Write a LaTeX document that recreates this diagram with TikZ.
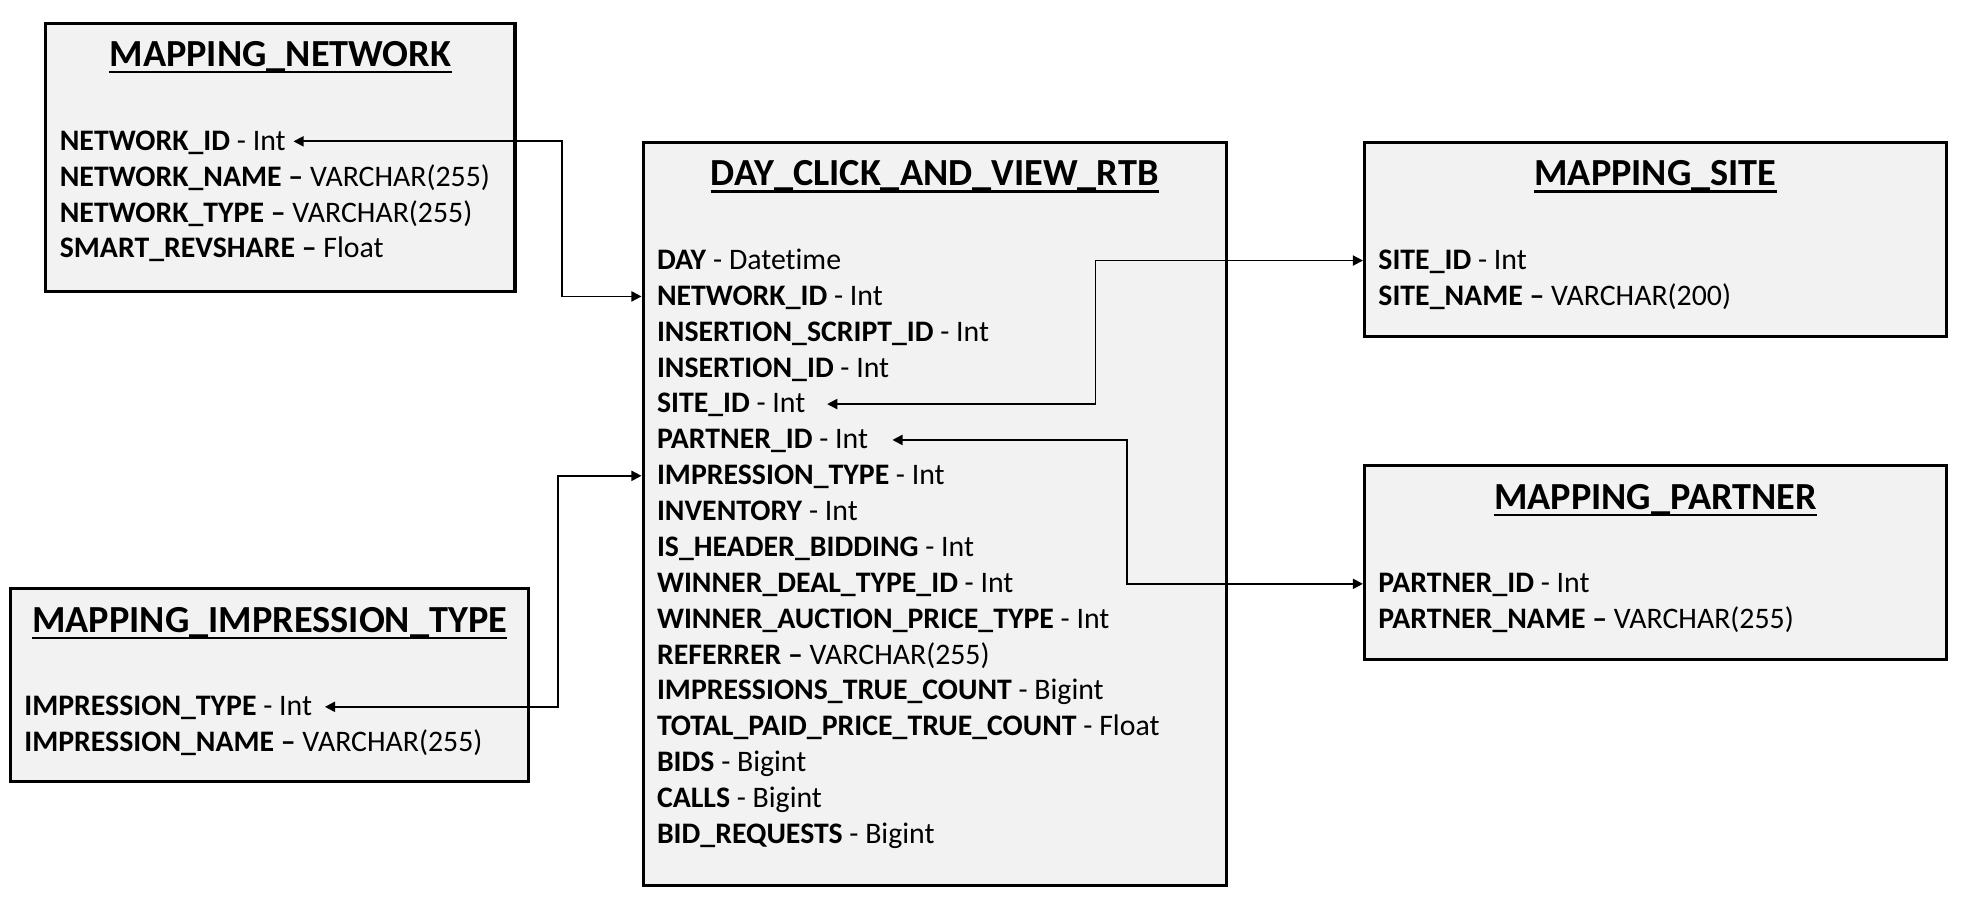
\documentclass[tikz,border=0pt]{standalone}
\usepackage{fontspec}
\setmainfont[Ligatures=NoCommon]{Carlito}
\usetikzlibrary{arrows.meta}
\definecolor{tabgray}{HTML}{F2F2F2}
% field with hyphen / with bold en dash
\newcommand{\fh}[2]{\textbf{#1} - #2}
\newcommand{\fd}[2]{\textbf{#1 –} #2}
\tikzset{
  tbox/.style={draw, line width=2.4bp, fill=tabgray, anchor=north west, inner sep=0},
  tabtitle/.style={anchor=base, inner sep=0, font=\fontsize{30.2bp}{34bp}\selectfont\bfseries},
  titleline/.style={line width=1.7bp},
  fieldrow/.style={anchor=base west, inner sep=0, text height=14bp, text depth=0bp,
    font=\fontsize{23.5bp}{28bp}\selectfont},
  relink/.style={{Triangle[length=8bp,width=8bp]}-{Triangle[length=8bp,width=8bp]}, line width=1.4bp}
}
\begin{document}
\begin{tikzpicture}[x=1bp,y=-1bp]
  \useasboundingbox[fill=white] (0,0) rectangle (1568,711);
  % tables
  \node[tbox, minimum width=370bp, minimum height=212bp] (net) at (35,17) {};
  \node[tbox, minimum width=460bp, minimum height=586bp] (rtb) at (506,111) {};
  \node[tbox, minimum width=459bp, minimum height=153bp] (site) at (1075,111) {};
  \node[tbox, minimum width=459bp, minimum height=153bp] (part) at (1075,366) {};
  \node[tbox, minimum width=409bp, minimum height=152bp] (imp) at (7,463) {};
  % titles
  \path (net.north) ++(0,35.5) node[tabtitle] (net-t) {MAPPING\_NETWORK};
  \path (rtb.north) ++(0,35.5) node[tabtitle] (rtb-t) {DAY\_CLICK\_AND\_VIEW\_RTB};
  \path (site.north) ++(0,35.5) node[tabtitle] (site-t) {MAPPING\_SITE};
  \path (part.north) ++(0,35.5) node[tabtitle] (part-t) {MAPPING\_PARTNER};
  \path (imp.north) ++(0,35.5) node[tabtitle] (imp-t) {MAPPING\_IMPRESSION\_TYPE};
  \foreach \t in {net-t, rtb-t, site-t, part-t, imp-t}
    \draw[titleline] ([yshift=-4.5bp]\t.base west) -- ([yshift=-4.5bp]\t.base east);
  % fields
  \foreach \txt [count=\i from 0] in {\fh{NETWORK\_ID}{Int}, \fd{NETWORK\_NAME}{VARCHAR(255)},
      \fd{NETWORK\_TYPE}{VARCHAR(255)}, \fd{SMART\_REVSHARE}{Float}}
    \path (net.north west) ++(12,101.5+28.3*\i) node[fieldrow] (net-\i) {\txt};
  \foreach \txt [count=\i from 0] in {\fh{DAY}{Datetime}, \fh{NETWORK\_ID}{Int},
      \fh{INSERTION\_SCRIPT\_ID}{Int}, \fh{INSERTION\_ID}{Int}, \fh{SITE\_ID}{Int},
      \fh{PARTNER\_ID}{Int}, \fh{IMPRESSION\_TYPE}{Int}, \fh{INVENTORY}{Int},
      \fh{IS\_HEADER\_BIDDING}{Int}, \fh{WINNER\_DEAL\_TYPE\_ID}{Int},
      \fh{WINNER\_AUCTION\_PRICE\_TYPE}{Int}, \fd{REFERRER}{VARCHAR(255)},
      \fh{IMPRESSIONS\_TRUE\_COUNT}{Bigint}, \fh{TOTAL\_PAID\_PRICE\_TRUE\_COUNT}{Float},
      \fh{BIDS}{Bigint}, \fh{CALLS}{Bigint}, \fh{BID\_REQUESTS}{Bigint}}
    \path (rtb.north west) ++(12,101.5+28.3*\i) node[fieldrow] (rtb-\i) {\txt};
  \foreach \txt [count=\i from 0] in {\fh{SITE\_ID}{Int}, \fd{SITE\_NAME}{VARCHAR(200)}}
    \path (site.north west) ++(12,101.5+28.3*\i) node[fieldrow] (site-\i) {\txt};
  \foreach \txt [count=\i from 0] in {\fh{PARTNER\_ID}{Int}, \fd{PARTNER\_NAME}{VARCHAR(255)}}
    \path (part.north west) ++(12,101.5+28.3*\i) node[fieldrow] (part-\i) {\txt};
  \foreach \txt [count=\i from 0] in {\fh{IMPRESSION\_TYPE}{Int}, \fd{IMPRESSION\_NAME}{VARCHAR(255)}}
    \path (imp.north west) ++(12,101.5+28.3*\i) node[fieldrow] (imp-\i) {\txt};
  % links
  \coordinate (jn) at (443,0);
  \coordinate (js) at (864,0);
  \coordinate (jp) at (889,0);
  \coordinate (ji) at (440,0);
  \draw[relink, shorten <=6bp] (net-0.east) -| (jn |- rtb-1.west) -- (rtb.west |- rtb-1.west);
  \draw[relink, shorten <=17bp] (rtb-4.east) -| (js |- site-0.west) -- (site.west |- site-0.west);
  \draw[relink, shorten <=19bp] (rtb-5.east) -| (jp |- part-0.west) -- (part.west |- part-0.west);
  \draw[relink, shorten <=10bp] (imp-0.east) -| (ji |- rtb-6.west) -- (rtb.west |- rtb-6.west);
\end{tikzpicture}
\end{document}
